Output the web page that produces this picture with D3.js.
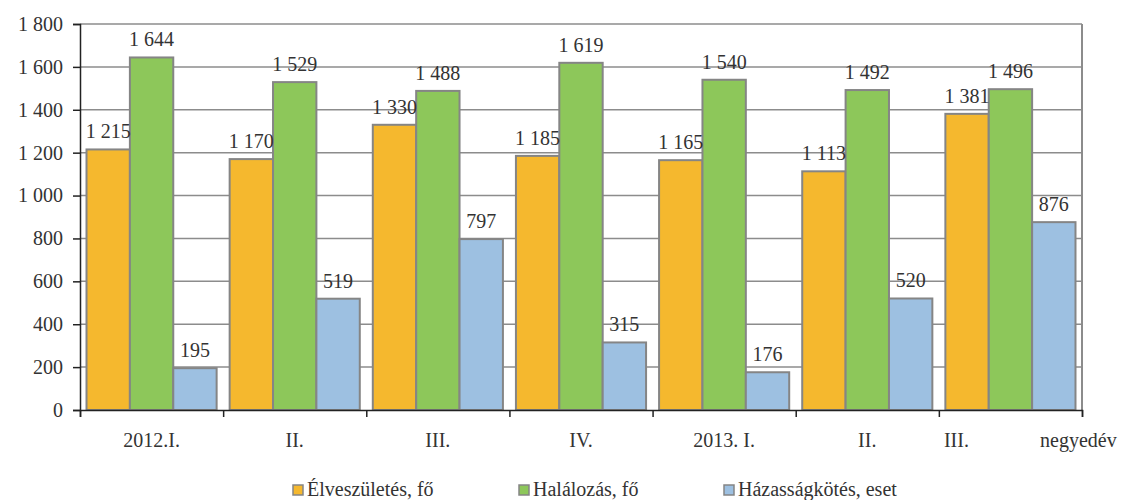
<!DOCTYPE html>
<html>
<head>
<meta charset="utf-8">
<script src="https://cdn.jsdelivr.net/npm/d3@7"></script>
<style>
  body { margin: 0; background: #fff; }
  svg text { font-family: 'Liberation Serif', 'Times New Roman', serif !important; fill: #333; }
</style>
</head>
<body>
<svg id="chart" width="1132" height="500" font-family="Liberation Serif"></svg>
<script>
const quarters = ["2012.I.", "II.", "III.", "IV.", "2013. I.", "II.", "III."];
const seriesNames = ["Élveszületés, fő", "Halálozás, fő", "Házasságkötés, eset"];
const births = [1215, 1170, 1330, 1185, 1165, 1113, 1381];
const deaths = [1644, 1529, 1488, 1619, 1540, 1492, 1496];
const marriages = [195, 519, 797, 315, 176, 520, 876];
const yTicks = [0, 200, 400, 600, 800, 1000, 1200, 1400, 1600, 1800];
const colors = ["#F5B82E", "#8DC75A", "#9DC0E1"];

const svg = d3.select("#chart");
const margin = {top: 24, left: 80};
const innerW = 1082 - margin.left, innerH = 410 - margin.top;
const fmt = v => d3.format(",")(v).replace(/,/g, " ");

const g = svg.append("g").attr("transform", `translate(${margin.left},${margin.top})`);

const x0 = d3.scaleBand().domain(d3.range(quarters.length)).range([0, innerW]);
const x1 = d3.scaleBand().domain([0, 1, 2]).range([0, x0.bandwidth()]).paddingOuter(0.15).paddingInner(0);
const y = d3.scaleLinear().domain([0, 1800]).range([innerH, 0]);

// gridlines
g.append("g").selectAll("line").data(yTicks.filter(d => d > 0)).enter().append("line")
  .attr("x1", 0).attr("x2", innerW)
  .attr("y1", d => y(d)).attr("y2", d => y(d))
  .attr("stroke", "#8c8c8c").attr("stroke-width", 1.5);
// right border
g.append("line").attr("x1", innerW).attr("x2", innerW).attr("y1", 0).attr("y2", innerH)
  .attr("stroke", "#8c8c8c").attr("stroke-width", 2);

const seriesData = [births, deaths, marriages];

const groups = g.selectAll("g.grp").data(quarters).enter().append("g")
  .attr("class", "grp")
  .attr("transform", (d, i) => `translate(${x0(i)},0)`);

groups.each(function(q, i) {
  const grp = d3.select(this);
  seriesData.forEach((vals, s) => {
    grp.append("rect")
      .attr("x", x1(s))
      .attr("y", y(vals[i]))
      .attr("width", x1.bandwidth())
      .attr("height", innerH - y(vals[i]))
      .attr("fill", colors[s])
      .attr("stroke", "#858585")
      .attr("stroke-width", 2);
  });
});

groups.each(function(q, i) {
  const grp = d3.select(this);
  seriesData.forEach((vals, s) => {
    grp.append("text")
      .attr("x", x1(s) + x1.bandwidth() / 2)
      .attr("y", y(vals[i]) - 11)
      .attr("text-anchor", "middle")
      .attr("font-size", "20px")
      .text(fmt(vals[i]));
  });
});

// y axis
const yAxis = g.append("g")
  .call(d3.axisLeft(y).tickValues(yTicks).tickSize(7).tickPadding(10).tickFormat(fmt));
yAxis.attr("font-family", null);
yAxis.select(".domain").attr("stroke", "#222").attr("stroke-width", 1.5);
yAxis.selectAll(".tick line").attr("stroke", "#222").attr("stroke-width", 1.5);
yAxis.selectAll("text").attr("font-size", "20px");

// x axis
const xAxis = g.append("g").attr("transform", `translate(0,${innerH})`)
  .call(d3.axisBottom(d3.scaleLinear().domain([0, quarters.length]).range([0, innerW]))
    .tickValues(d3.range(quarters.length + 1)).tickSize(7).tickFormat(""));
xAxis.select(".domain").attr("stroke", "#222").attr("stroke-width", 1.5);
xAxis.selectAll(".tick line").attr("stroke", "#222").attr("stroke-width", 1.5);

g.append("g").selectAll("text").data(quarters).enter().append("text")
  .attr("x", (d, i) => x0(i) + x0.bandwidth() / 2 + (i === quarters.length - 1 ? -54 : 0))
  .attr("y", innerH + 37)
  .attr("text-anchor", "middle")
  .attr("font-size", "20px")
  .text(d => d);

g.append("text")
  .attr("x", innerW - 42)
  .attr("y", innerH + 37)
  .attr("font-size", "20px")
  .text("negyedév");

// legend
const legendX = [293, 519, 724];
const legend = svg.append("g").selectAll("g").data(seriesNames).enter().append("g")
  .attr("transform", (d, i) => `translate(${legendX[i]},485)`);
legend.append("rect")
  .attr("width", 10).attr("height", 10)
  .attr("fill", (d, i) => colors[i])
  .attr("stroke", "#858585").attr("stroke-width", 1.5);
legend.append("text")
  .attr("x", 14).attr("y", 11)
  .attr("font-size", "20px")
  .text(d => d);
</script>
</body>
</html>
